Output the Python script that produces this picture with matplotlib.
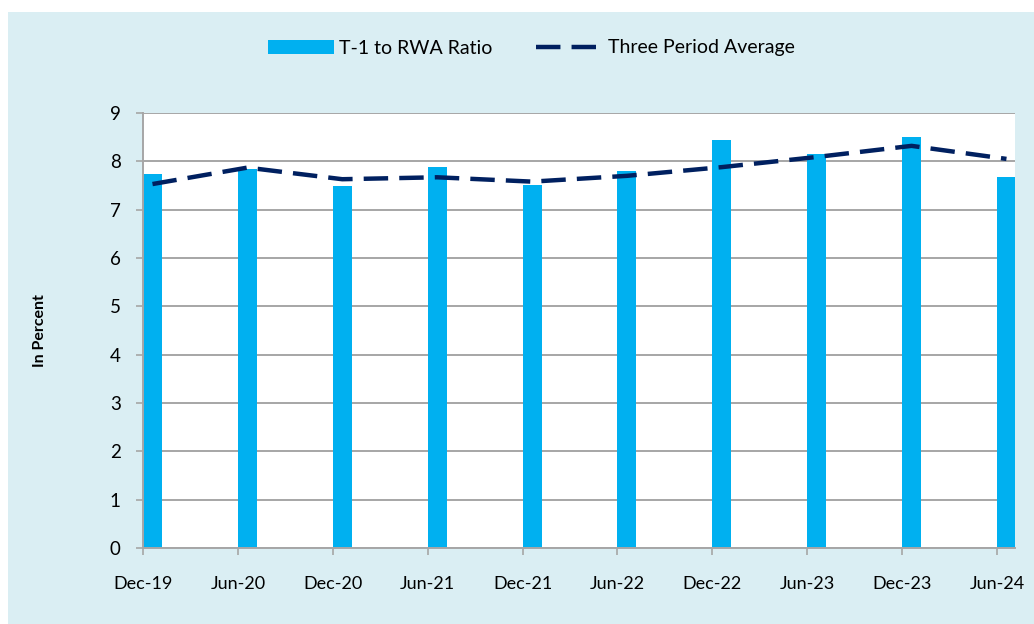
import matplotlib.pyplot as plt
import matplotlib.patches as mpatches
import numpy as np

periods = ['Dec-19', 'Jun-20', 'Dec-20', 'Jun-21', 'Dec-21',
           'Jun-22', 'Dec-22', 'Jun-23', 'Dec-23', 'Jun-24']
t1_rwa = [7.74, 7.85, 7.48, 7.88, 7.51, 7.80, 8.44, 8.16, 8.50, 7.67]
three_avg = [7.53, 7.87, 7.63, 7.67, 7.58, 7.70, 7.88, 8.09, 8.32, 8.05]

plt.rcParams['font.family'] = ['Lato', 'DejaVu Sans']

bar_col = '#00B0F0'
line_col = '#002060'
bg_col = '#DAEEF3'
grid_col = '#A6A6A6'

fig = plt.figure(figsize=(10.34, 6.24), dpi=100, facecolor='white')
# light blue panel (the reference is cropped, white strip top/left)
fig.patches.append(mpatches.Rectangle((8 / 1034, 0), 1, 1 - 12 / 624,
                                      transform=fig.transFigure,
                                      facecolor=bg_col, edgecolor='none', zorder=-10))

ax = fig.add_axes([143 / 1034, (624 - 548) / 624, 872 / 1034, 435 / 624])
ax.set_facecolor('white')

x = np.arange(len(periods))
bars = ax.bar(x, t1_rwa, width=0.2, align='edge', color=bar_col,
              label='T-1 to RWA Ratio', zorder=3)
line, = ax.plot(x + 0.1, three_avg, color=line_col, lw=3.2, dashes=(5.5, 2.5),
                label='Three Period Average', zorder=4)

ax.set_xlim(0, 9.19)
ax.set_ylim(0, 9)
ax.set_yticks(range(10))
ax.set_xticks(x)
ax.set_xticklabels(periods)

ax.grid(axis='y', color=grid_col, lw=1.4, zorder=1)
ax.set_axisbelow(True)
for s in ['top', 'right']:
    ax.spines[s].set_visible(False)
for s in ['left', 'bottom']:
    ax.spines[s].set_color(grid_col)
    ax.spines[s].set_linewidth(1.4)
    ax.spines[s].set_zorder(5)

ax.tick_params(axis='y', length=5, width=1.2, color=grid_col, pad=11,
               labelsize=13.5, labelcolor='black')
ax.tick_params(axis='x', length=5, width=1.2, color=grid_col, pad=15,
               labelsize=13, labelcolor='black')

ax.set_ylabel('In Percent', fontsize=11.5, fontweight='bold')
ax.yaxis.set_label_coords(-0.11, 0.5)

leg = fig.legend(handles=[bars, line], loc='center',
                 bbox_to_anchor=(531 / 1034, 1 - 48 / 624),
                 ncol=2, frameon=False, fontsize=14, handlelength=3.4,
                 handleheight=0.7, handletextpad=0.3, columnspacing=2.2)

fig.savefig('out.png', dpi=100, facecolor=fig.get_facecolor())
